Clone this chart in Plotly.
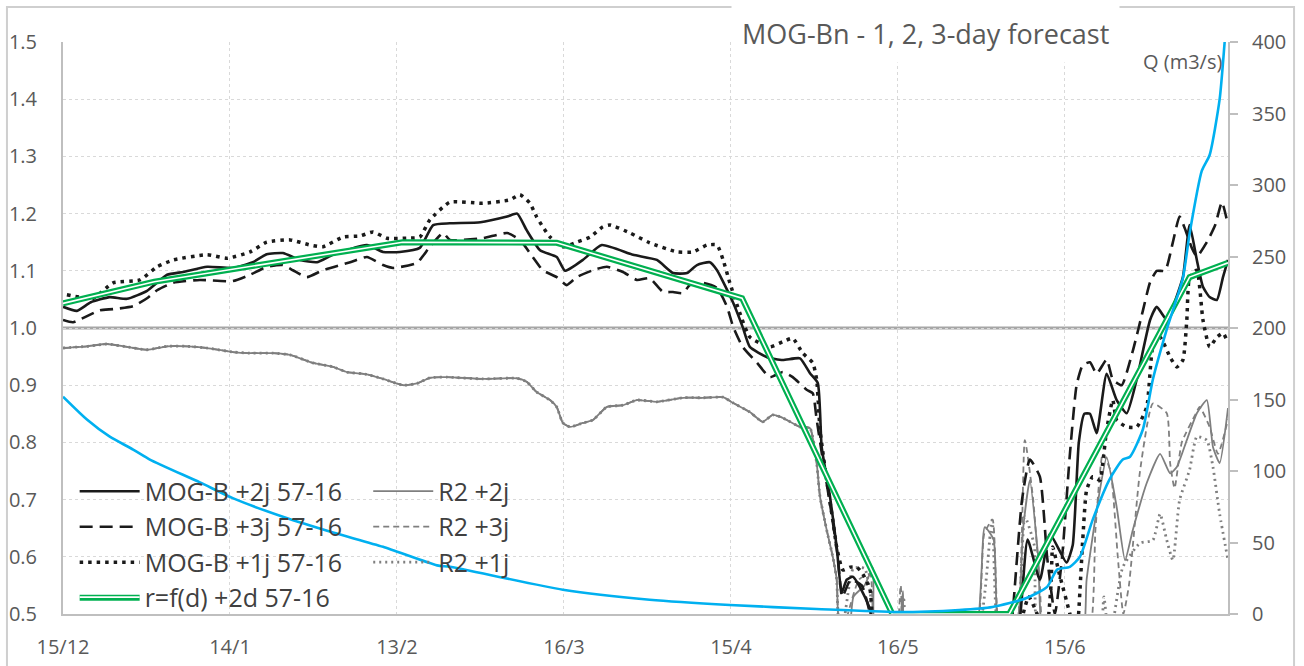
import plotly.graph_objects as go

# ---------------- data (day index from 15/12) ----------------
tick_days = [0, 30, 60, 90, 120, 150, 180]
tick_labels = ["15/12", "14/1", "13/2", "16/3", "15/4", "16/5", "15/6"]
x_end = 209.3
ref_level = 1.0

mog2_day = [0, 2.5, 5, 8.4, 11.5, 15.1, 18.7, 21.6, 25.9, 30.5, 34.1, 36.6, 39.5, 42.6, 45.6,
            48.5, 54.6, 57.5, 60.5, 64.1, 66.5, 69.5, 75, 79.8, 81.6, 83.3, 85.7, 88.7, 90.2, 93.4,
            96.8, 102.4, 106.7, 109.6, 112.1, 113.9, 116.2, 117.5, 120.4, 122.1, 123.4, 126.5, 129.3,
            132.4, 134.2, 135.6, 136.3, 137.8, 139, 139.9, 140.8, 141.9, 143.7, 145, 146, 171, 172,
            173.3, 175.5, 177.3, 180.3, 181.4, 182.5, 183.5, 184.5, 185.7, 187.5, 189.3, 191.1, 192.9,
            195.3, 196.5, 198.3, 199.4, 201.2, 202.4, 203.7, 204.8, 206, 207.3, 208.4, 209.3]
mog2_val = [1.037, 1.030, 1.045, 1.054, 1.051, 1.065, 1.093, 1.098, 1.107, 1.105, 1.115, 1.129, 1.131,
            1.119, 1.115, 1.128, 1.145, 1.133, 1.133, 1.14, 1.18, 1.183, 1.185, 1.195, 1.20, 1.171,
            1.136, 1.124, 1.10, 1.119, 1.145, 1.128, 1.119, 1.096, 1.096, 1.110, 1.115, 1.101, 1.044,
            1.002, 0.967, 0.949, 0.944, 0.947, 0.921, 0.904, 0.792, 0.705, 0.617, 0.537, 0.56, 0.565,
            0.537, 0.507, 0.45, 0.45, 0.5, 0.63, 0.56, 0.64, 0.59, 0.62, 0.80, 0.85, 0.85, 0.816, 0.92,
            0.874, 0.851, 0.91, 1.014, 1.037, 1.014, 1.037, 1.089, 1.18, 1.119, 1.072, 1.054, 1.049,
            1.089, 1.119]

mog3_day = [0, 1.8, 6.6, 9, 12.6, 15.1, 16.9, 19.8, 24.6, 30.5, 33.6, 36.6, 39.5, 41.3, 43.8, 46.7,
            51.6, 54.6, 57.5, 59.3, 63.6, 65.9, 68.3, 69.5, 75.4, 79.8, 82.1, 84.4, 86.2, 88.7, 90.5,
            92.3, 95.2, 97.7, 100.6, 103.1, 105.4, 107.8, 109.6, 111.4, 112.6, 115, 117.5, 119.3, 120.4,
            122.1, 124.7, 127, 129.3, 131.1, 133.6, 134.7, 135.4, 136.5, 138, 139.2, 140, 141.5, 143.5,
            145, 146, 170, 170.6, 172.3, 173.7, 175.5, 176.8, 178.2, 179.5, 180.9, 182.1, 183.2, 184.5,
            185.7, 187.5, 188.6, 190.2, 192.2, 194, 195.3, 196.5, 198, 199.4, 200.6, 201.7, 202.8,
            203.7, 205.5, 207, 208.2, 209.3]
mog3_val = [1.014, 1.01, 1.031, 1.033, 1.038, 1.052, 1.066, 1.079, 1.084, 1.082, 1.093, 1.107, 1.110,
            1.101, 1.089, 1.101, 1.115, 1.124, 1.110, 1.105, 1.114, 1.142, 1.166, 1.154, 1.157, 1.166,
            1.154, 1.124, 1.101, 1.089, 1.075, 1.089, 1.101, 1.107, 1.098, 1.084, 1.087, 1.063, 1.063,
            1.061, 1.075, 1.079, 1.07, 1.037, 1.002, 0.967, 0.939, 0.914, 0.923, 0.914, 0.892, 0.886,
            0.84, 0.77, 0.68, 0.60, 0.53, 0.56, 0.55, 0.5, 0.45, 0.45, 0.5, 0.70, 0.77, 0.74, 0.60, 0.5,
            0.6, 0.78, 0.90, 0.935, 0.94, 0.92, 0.945, 0.91, 0.90, 0.96, 1.03, 1.08, 1.10, 1.10, 1.15,
            1.195, 1.17, 1.14, 1.125, 1.15, 1.18, 1.22, 1.18]

mog1_day = [0.7, 5.4, 9, 13.8, 16.9, 19.8, 25.9, 29.5, 33.6, 36.6, 40.8, 44.4, 46.7, 50.3, 53.4, 55.7,
            58.2, 61.8, 64.1, 65.9, 69.5, 75.4, 80.3, 82.1, 83.9, 85.1, 86.2, 87.5, 89.8, 92.3, 94.7,
            97, 98.3, 101.9, 105.4, 110.3, 113.2, 115.7, 117.5, 118.6, 119.8, 121.6, 123.4, 127, 129.3,
            131.1, 132.9, 134.7, 135.4, 136, 137.2, 138.3, 139, 140.1, 141.4, 142.6, 143.7, 145, 145.3,
            146, 172, 172.5, 173.5, 175, 176.5, 177.5, 177.8, 179, 180.9, 182, 183.2, 183.9, 185, 186.3,
            186.8, 187.5, 188.6, 189.3, 191.1, 192.9, 194.7, 195.8, 197.1, 198.9, 200.1, 201.2, 201.9,
            202.4, 203.7, 204.8, 206, 207.3, 208.4, 209.3]
mog1_val = [1.058, 1.052, 1.079, 1.084, 1.107, 1.119, 1.128, 1.122, 1.133, 1.15, 1.154, 1.145, 1.142,
            1.159, 1.161, 1.168, 1.157, 1.157, 1.159, 1.189, 1.22, 1.218, 1.224, 1.233, 1.218, 1.194,
            1.177, 1.159, 1.142, 1.15, 1.159, 1.177, 1.18, 1.166, 1.149, 1.133, 1.133, 1.145, 1.145,
            1.119, 1.079, 1.026, 0.984, 0.967, 0.976, 0.982, 0.956, 0.939, 0.91, 0.822, 0.734, 0.664,
            0.617, 0.577, 0.582, 0.582, 0.57, 0.542, 0.507, 0.45, 0.45, 0.5, 0.53, 0.5, 0.45, 0.55,
            0.617, 0.57, 0.5, 0.45, 0.629, 0.717, 0.74, 0.734, 0.764, 0.822, 0.874, 0.839, 0.827, 0.827,
            0.862, 0.967, 0.984, 0.949, 0.932, 0.944, 1.014, 1.089, 1.101, 1.014, 0.967, 0.984, 0.991,
            0.974]

# R2 forecasts share the same trajectory until the recession collapses
r2_common_day = [0, 4.3, 7.9, 11.5, 15.1, 18.7, 22.3, 25.9, 30.5, 33.6, 37.7, 40.8, 44.9, 48.5, 51,
                 54.6, 57.5, 61.1, 63.6, 65.9, 69, 75.4, 81.6, 83.3, 85.1, 87.5, 88.7, 89.8, 91.1,
                 93.4, 95.2, 97.7, 100.6, 103.1, 106.7, 111.4, 115, 118.6, 120.4, 123.4, 125.7, 127.5,
                 129.3, 132.4, 134.2, 135.4, 136, 137.2, 138.3, 139, 139.2]
r2_common_val = [0.965, 0.968, 0.972, 0.967, 0.962, 0.968, 0.968, 0.965, 0.958, 0.956, 0.956, 0.953,
                 0.939, 0.932, 0.923, 0.919, 0.911, 0.900, 0.903, 0.913, 0.914, 0.911, 0.912, 0.906,
                 0.888, 0.874, 0.862, 0.834, 0.827, 0.834, 0.839, 0.862, 0.865, 0.874, 0.871, 0.878,
                 0.878, 0.879, 0.869, 0.853, 0.836, 0.848, 0.843, 0.827, 0.825, 0.764, 0.705, 0.647,
                 0.60, 0.56, 0.507]

r2p2_tail_day = [139.6, 141, 142, 144, 145.5, 146, 149.8, 150.9, 151.5, 163.5, 165.6, 167.2, 168.3,
                 171, 172.5, 173.7, 175.2, 176.4, 183, 183.9, 186, 187.5, 189.3, 190.8, 192.2, 194.7,
                 197.1, 198.9, 200.1, 201.9, 203.7, 205.5, 206.6, 207.8, 209.3]
r2p2_tail_val = [0.45, 0.45, 0.53, 0.55, 0.58, 0.45, 0.45, 0.54, 0.45, 0.45, 0.652, 0.63, 0.45, 0.45,
                 0.65, 0.734, 0.6, 0.45, 0.45, 0.56, 0.7, 0.774, 0.687, 0.594, 0.647, 0.729, 0.78,
                 0.746, 0.757, 0.804, 0.851, 0.874, 0.792, 0.764, 0.86]

r2p3_tail_day = [139.6, 141, 143, 145, 146, 149.5, 150.5, 151.5, 163.6, 165.5, 167, 168.5, 171, 172.8,
                 174.3, 175.5, 176.5, 184, 185.5, 186.8, 188.2, 189.5, 190.5, 191.5, 193.5, 195.8,
                 198.3, 198.9, 199.7, 201, 203.5, 204.2, 206, 207.5, 209.3]
r2p3_tail_val = [0.45, 0.5, 0.56, 0.57, 0.45, 0.45, 0.55, 0.45, 0.45, 0.64, 0.665, 0.45, 0.45, 0.804,
                 0.70, 0.55, 0.45, 0.45, 0.65, 0.78, 0.75, 0.60, 0.50, 0.55, 0.75, 0.868, 0.851, 0.764,
                 0.72, 0.80, 0.85, 0.862, 0.827, 0.78, 0.84]

r2p1_tail_day = [139.6, 140.5, 142, 144, 145, 146, 150, 151, 152, 163.8, 166.9, 168.3, 171, 172.8,
                 174.5, 175.5, 186, 187, 188, 190.4, 193.5, 195.8, 197.1, 198.3, 199.4, 200.6, 202.4,
                 203.7, 205.5, 206.6, 207.8, 209.3]
r2p1_tail_val = [0.45, 0.5, 0.58, 0.58, 0.54, 0.45, 0.45, 0.53, 0.45, 0.45, 0.664, 0.45, 0.45, 0.67,
                 0.62, 0.45, 0.45, 0.53, 0.45, 0.582, 0.624, 0.629, 0.675, 0.629, 0.594, 0.699, 0.752,
                 0.81, 0.804, 0.757, 0.675, 0.594]

rfd_day = [0, 16.4, 61, 88.7, 122, 149, 170, 202.4, 209.3]
rfd_val = [1.043, 1.081, 1.15, 1.149, 1.052, 0.5, 0.5, 1.089, 1.114]

q_day = [0, 4.3, 8.4, 12.6, 15.6, 24.6, 30.5, 39.5, 48.5, 57.5, 67.2, 69.5, 89.8, 105.4, 119.8,
         135.4, 149.8, 161, 167, 173, 176.8, 178.6, 180.9, 182.7, 185, 188, 190.4, 191.7, 194, 195.8,
         198.3, 201.2, 202.4, 204.6, 206, 207.8, 208.7, 209.3]
q_val = [152, 136, 124, 115, 108, 92, 81, 68, 57, 47, 34, 33, 17, 10, 6.3, 3.5, 1.4, 2.8, 4.9, 11,
         19, 31, 33, 40, 66, 94, 108, 110, 129, 164, 199, 235, 266, 310, 321, 360, 400, 430]

# ---------------- styling ----------------
FONT = "Open Sans"
TXT = "#595959"
GRID = "#d9d9d9"
AXIS = "#bfbfbf"
GRAY = "#7f7f7f"
GREEN = "#00B050"
BLUE = "#00B0F0"
LEG_FS = 25
LEG_Y = 0.2545
LEG_ROW = 35.3 / 572  # legend row pitch in paper units

fig = go.Figure()

r2_series = [
    ("R2 +2j", r2p2_tail_day, r2p2_tail_val, dict(color=GRAY, width=1.8)),
    ("R2 +3j", r2p3_tail_day, r2p3_tail_val, dict(color=GRAY, width=1.8, dash="6px,4px")),
    ("R2 +1j", r2p1_tail_day, r2p1_tail_val, dict(color=GRAY, width=2.8, dash="2px,4px")),
]
for name, td, tv, ln in r2_series:
    fig.add_trace(go.Scatter(x=r2_common_day + td, y=r2_common_val + tv, name=name, mode="lines",
                             line=dict(shape="spline", smoothing=0.5, **ln), legend="legend2",
                             legendgroup=name, showlegend=True))

mog_series = [
    ("MOG-B +2j 57-16", mog2_day, mog2_val, dict(color="#1a1a1a", width=2.6)),
    ("MOG-B +3j 57-16", mog3_day, mog3_val, dict(color="#1a1a1a", width=2.6, dash="13px,7px")),
    ("MOG-B +1j 57-16", mog1_day, mog1_val, dict(color="#1a1a1a", width=3.5, dash="3.5px,5px")),
]
for name, d, v, ln in mog_series:
    fig.add_trace(go.Scatter(x=d, y=v, name=name, mode="lines",
                             line=dict(shape="spline", smoothing=0.5, **ln), legend="legend",
                             legendgroup=name, showlegend=True))

# double green line: green body + white core (core's legend entry overlays the green one)
fig.add_trace(go.Scatter(x=rfd_day, y=rfd_val, name="r=f(d) +2d 57-16", mode="lines",
                         line=dict(color=GREEN, width=6), legend="legend", legendgroup="rfd",
                         showlegend=True))
fig.add_trace(go.Scatter(x=rfd_day, y=rfd_val, name="r=f(d) +2d 57-16", mode="lines",
                         line=dict(color="white", width=1.6), legend="legend3", legendgroup="rfdw",
                         showlegend=True, hoverinfo="skip"))

fig.add_trace(go.Scatter(x=q_day, y=q_val, name="Q", mode="lines", yaxis="y2", showlegend=False,
                         line=dict(color=BLUE, width=2.6, shape="spline", smoothing=0.6)))

legend_common = dict(bgcolor="rgba(0,0,0,0)", yanchor="top", xanchor="left", itemwidth=60,
                     tracegroupgap=0, orientation="v")
leg_font = dict(family=FONT, size=LEG_FS, color="#404040")

fig.update_layout(
    width=1304, height=666, showlegend=True,
    margin=dict(l=63, r=76, t=42, b=52, autoexpand=False),
    paper_bgcolor="white", plot_bgcolor="white",
    font=dict(family=FONT, color=TXT),
    legend=dict(x=0.01, y=LEG_Y, font=leg_font, **legend_common),
    legend2=dict(x=0.262, y=LEG_Y, font=leg_font, **legend_common),
    legend3=dict(x=0.01, y=LEG_Y - 3 * LEG_ROW,
                 font=dict(family=FONT, size=LEG_FS, color="rgba(0,0,0,0)"), **legend_common),
    xaxis=dict(range=[0, x_end], tickvals=tick_days, ticktext=tick_labels, showgrid=True,
               gridcolor=GRID, griddash="dot", gridwidth=1, zeroline=False, showline=True,
               linecolor=AXIS, linewidth=2, ticks="", ticklabelstandoff=14, automargin=False,
               tickfont=dict(family=FONT, size=20, color=TXT)),
    yaxis=dict(range=[0.5, 1.5], dtick=0.1, tick0=0.5, tickformat=".1f", showgrid=True,
               gridcolor=GRID, griddash="dot", gridwidth=1, zeroline=False, showline=True,
               linecolor=AXIS, linewidth=2, ticks="", ticklabelstandoff=20, automargin=False,
               tickfont=dict(family=FONT, size=20, color=TXT)),
    yaxis2=dict(range=[0, 400], dtick=50, overlaying="y", side="right", showgrid=False,
                zeroline=False, showline=True, linecolor=AXIS, linewidth=2, ticks="outside",
                ticklen=8, tickwidth=1.5, tickcolor=AXIS, ticklabelstandoff=10, automargin=False,
                tickfont=dict(family=FONT, size=20, color=TXT)),
    shapes=[
        dict(type="line", xref="paper", x0=0, x1=1, yref="y", y0=ref_level, y1=ref_level,
             line=dict(color="#a6a6a6", width=3), layer="below"),
        dict(type="rect", xref="paper", yref="paper", x0=-0.0481, x1=1.0567, y0=-0.13, y1=1.0612,
             line=dict(color="#cfcfcf", width=2), fillcolor="rgba(0,0,0,0)", layer="above"),
    ],
    annotations=[
        dict(text="MOG-Bn - 1, 2, 3-day forecast", xref="paper", yref="paper", x=0.9073, y=1.014,
             xanchor="right", yanchor="middle", showarrow=False, bgcolor="white", borderpad=10,
             font=dict(family=FONT, size=27, color=TXT)),
        dict(text="Q (m3/s)", xref="paper", yref="paper", x=0.9966, y=0.9656,
             xanchor="right", yanchor="middle", showarrow=False,
             font=dict(family=FONT, size=20, color=TXT)),
    ],
)

fig.write_html("out.html", config={"displayModeBar": False},
               post_script="document.body.style.margin='0px';")
